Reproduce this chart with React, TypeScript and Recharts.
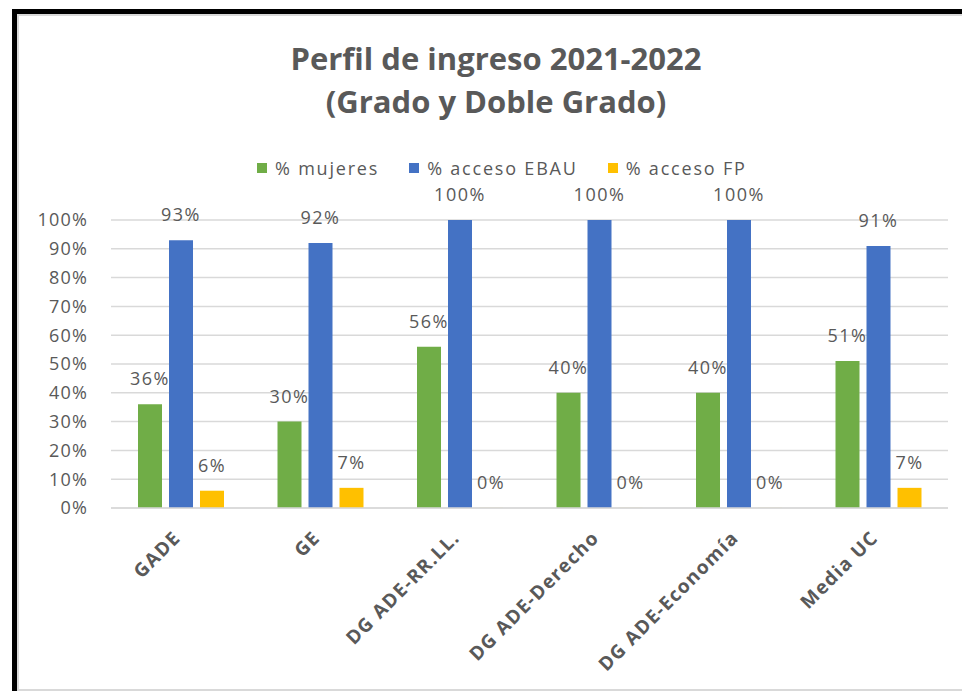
import React from "react";
import { BarChart, Bar, XAxis, YAxis, CartesianGrid, Legend, LabelList } from "recharts";

const categories = ["GADE", "GE", "DG ADE-RR.LL.", "DG ADE-Derecho", "DG ADE-Economía", "Media UC"];
const mujeres = [36, 30, 56, 40, 40, 51];
const accesoEbau = [93, 92, 100, 100, 100, 91];
const accesoFp = [6, 7, 0, 0, 0, 7];
const yTicks = [0, 10, 20, 30, 40, 50, 60, 70, 80, 90, 100];

const seriesInfo = [
  { key: "mujeres", name: "% mujeres", color: "#70AD47" },
  { key: "ebau", name: "% acceso EBAU", color: "#4472C4" },
  { key: "fp", name: "% acceso FP", color: "#FFC000" },
];

const data = categories.map((c, i) => ({
  name: c,
  mujeres: mujeres[i],
  ebau: accesoEbau[i],
  fp: accesoFp[i],
}));

const FONT = "'Open Sans', sans-serif";
const GREY = "#595959";

const pct = (v: any) => `${v}%`;

function XTick(props: any) {
  const { x, y, payload } = props;
  const ax = x + 1;
  const ay = y + 23;
  return (
    <text
      x={ax}
      y={ay}
      transform={`rotate(-45, ${ax}, ${ay})`}
      textAnchor="end"
      fill={GREY}
      fontFamily={FONT}
      fontSize={19}
      fontWeight="bold"
      letterSpacing={1.3}
    >
      {payload.value}
    </text>
  );
}

function LegendBox() {
  return (
    <div
      style={{
        display: "flex",
        alignItems: "center",
        gap: 30,
        fontFamily: FONT,
        fontSize: 18,
        color: GREY,
        letterSpacing: 1.8,
        whiteSpace: "nowrap",
      }}
    >
      {seriesInfo.map((s) => (
        <div key={s.key} style={{ display: "flex", alignItems: "center" }}>
          <span style={{ width: 10, height: 10, background: s.color, display: "inline-block", marginRight: 8 }} />
          <span>{s.name}</span>
        </div>
      ))}
    </div>
  );
}

export default function App() {
  return (
    <div style={{ position: "absolute", left: 0, top: 0, width: 962, height: 691, background: "#fff", overflow: "hidden" }}>
      {/* marco */}
      <div style={{ position: "absolute", left: 12, top: 9, width: 960, height: 690, borderLeft: "5px solid #000", borderTop: "5px solid #000", boxSizing: "border-box" }} />
      <div style={{ position: "absolute", left: 17, top: 14, width: 960, height: 677, borderLeft: "2px solid #d9d9d9", borderTop: "2px solid #d9d9d9", borderBottom: "2px solid #d9d9d9", boxSizing: "border-box" }} />

      {/* titulo */}
      <div
        style={{
          position: "absolute",
          left: 196,
          top: 37,
          width: 600,
          textAlign: "center",
          fontFamily: FONT,
          fontWeight: "bold",
          fontSize: 31,
          lineHeight: "43px",
          color: GREY,
        }}
      >
        Perfil de ingreso 2021-2022
        <br />
        (Grado y Doble Grado)
      </div>

      <div style={{ position: "absolute", left: 0, top: 0 }}>
        <BarChart
          width={962}
          height={691}
          data={data}
          margin={{ top: 220, right: 14, bottom: 33, left: 51 }}
          barSize={24}
          barGap={7}
        >
          <CartesianGrid vertical={false} stroke="#d9d9d9" strokeWidth={1.5} />
          <XAxis
            dataKey="name"
            interval={0}
            axisLine={{ stroke: "#d9d9d9", strokeWidth: 1.5 }}
            tickLine={false}
            tick={<XTick />}
            height={150}
          />
          <YAxis
            width={60}
            domain={[0, 100]}
            ticks={yTicks}
            interval={0}
            tickFormatter={pct}
            axisLine={false}
            tickLine={false}
            tickMargin={17}
            tick={{ fill: GREY, fontFamily: FONT, fontSize: 18, letterSpacing: 1.2 }}
          />
          <Legend
            verticalAlign="middle"
            wrapperStyle={{ position: "absolute", top: 156, left: 257, width: "auto" }}
            content={<LegendBox />}
          />
          {seriesInfo.map((s) => (
            <Bar key={s.key} dataKey={s.key} name={s.name} fill={s.color} minPointSize={0.1} isAnimationActive={false}>
              <LabelList
                dataKey={s.key}
                position="top"
                offset={19}
                formatter={pct}
                fill={GREY}
                fontFamily={FONT}
                fontSize={18}
                letterSpacing={1.5}
              />
            </Bar>
          ))}
        </BarChart>
      </div>
    </div>
  );
}
